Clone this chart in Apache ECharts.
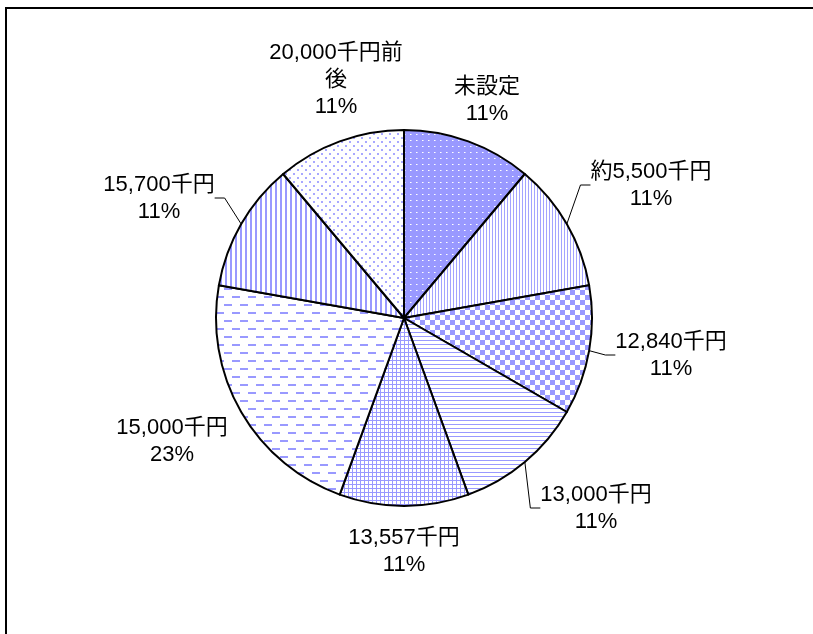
<!DOCTYPE html>
<html>
<head>
<meta charset="utf-8">
<script src="https://cdn.jsdelivr.net/npm/echarts@6/dist/echarts.min.js"></script>
<style>
  html, body { margin: 0; padding: 0; background: #fff; }
  #chart { width: 813px; height: 634px; }
</style>
</head>
<body>
<div id="chart"></div>
<script>
// 予算額の分布（件数）
const categories = ['未設定', '約5,500千円', '12,840千円', '13,000千円', '13,557千円', '15,000千円', '15,700千円', '20,000千円前後']
const counts = [1, 1, 1, 1, 1, 2, 1, 1]
const pctLabels = ['11%', '11%', '11%', '11%', '11%', '23%', '11%', '11%']
// 引き出し線を出すラベル
const withLine = [false, true, true, true, false, false, true, false]

// ラベルの中心位置（レイアウト用）
const labelPos = [
  [487, 100], [651, 185], [671, 355], [596, 508],
  [404, 551], [172, 441], [159, 198], [336, 80]
]

const BLUE = '#9999ff'

// 塗りつぶしパターン
const makePattern = (w, h, draw) => {
  const c = document.createElement('canvas')
  c.width = w
  c.height = h
  const ctx = c.getContext('2d')
  draw(ctx)
  return { image: c, repeat: 'repeat' }
}
const patterns = [
  // 濃い点
  makePattern(6, 6, ctx => {
    ctx.fillStyle = BLUE
    ctx.fillRect(0, 0, 6, 6)
    ctx.fillStyle = '#ffffff'
    ctx.fillRect(2, 2, 1, 1)
    ctx.fillStyle = '#d0d0ff'
    ctx.fillRect(3, 2, 1, 1)
  }),
  // 細い縦線
  makePattern(3, 1, ctx => {
    ctx.fillStyle = '#ffffff'
    ctx.fillRect(0, 0, 3, 1)
    ctx.fillStyle = '#a4a4ff'
    ctx.fillRect(0, 0, 1, 1)
  }),
  // 市松
  makePattern(10, 10, ctx => {
    ctx.fillStyle = '#ffffff'
    ctx.fillRect(0, 0, 10, 10)
    ctx.fillStyle = BLUE
    ctx.fillRect(0, 0, 5, 5)
    ctx.fillRect(5, 5, 5, 5)
  }),
  // 横線
  makePattern(1, 4, ctx => {
    ctx.fillStyle = '#ffffff'
    ctx.fillRect(0, 0, 1, 4)
    ctx.fillStyle = BLUE
    ctx.fillRect(0, 0, 1, 1)
  }),
  // 格子
  makePattern(4, 4, ctx => {
    ctx.fillStyle = '#ffffff'
    ctx.fillRect(0, 0, 4, 4)
    ctx.fillStyle = BLUE
    ctx.fillRect(0, 0, 4, 1)
    ctx.fillRect(0, 0, 1, 4)
  }),
  // 破線（横）
  makePattern(16, 16, ctx => {
    ctx.fillStyle = '#ffffff'
    ctx.fillRect(0, 0, 16, 16)
    ctx.fillStyle = BLUE
    ctx.fillRect(0, 0, 8, 2)
    ctx.fillRect(8, 8, 8, 2)
  }),
  // 太い縦線
  makePattern(5, 1, ctx => {
    ctx.fillStyle = '#ffffff'
    ctx.fillRect(0, 0, 5, 1)
    ctx.fillStyle = BLUE
    ctx.fillRect(0, 0, 2, 1)
  }),
  // まばらな点
  makePattern(8, 8, ctx => {
    ctx.fillStyle = '#ffffff'
    ctx.fillRect(0, 0, 8, 8)
    ctx.fillStyle = '#a8a8ff'
    ctx.fillRect(1, 1, 2, 2)
    ctx.fillRect(5, 5, 2, 2)
  })
]

const pieData = categories.map((name, i) => ({
  name: name,
  value: counts[i],
  itemStyle: { color: patterns[i] },
  labelLine: { show: withLine[i] }
}))

const chart = echarts.init(document.getElementById('chart'))
const option = {
  animation: false,
  backgroundColor: '#ffffff',
  graphic: [
    {
      type: 'rect',
      shape: { x: 6, y: 8, width: 900, height: 700 },
      style: { fill: null, stroke: '#000', lineWidth: 2 },
      silent: true
    }
  ],
  series: [
    {
      type: 'pie',
      center: [404, 318],
      radius: 188,
      startAngle: 90,
      clockwise: true,
      data: pieData,
      itemStyle: {
        borderColor: '#000',
        borderWidth: 2
      },
      label: {
        show: true,
        position: 'outside',
        color: '#000',
        fontSize: 22,
        lineHeight: 27,
        fontFamily: '"Liberation Sans", "Noto Sans CJK JP", sans-serif',
        formatter: p => p.name.replace('前後', '前\n後') + '\n' + pctLabels[p.dataIndex]
      },
      labelLine: {
        length: 10,
        length2: 10,
        lineStyle: { color: '#000', width: 1 }
      },
      labelLayout: params => ({
        x: labelPos[params.dataIndex][0],
        y: labelPos[params.dataIndex][1],
        align: 'center',
        verticalAlign: 'middle'
      }),
      emphasis: { disabled: true }
    }
  ]
}
chart.setOption(option)
</script>
</body>
</html>
